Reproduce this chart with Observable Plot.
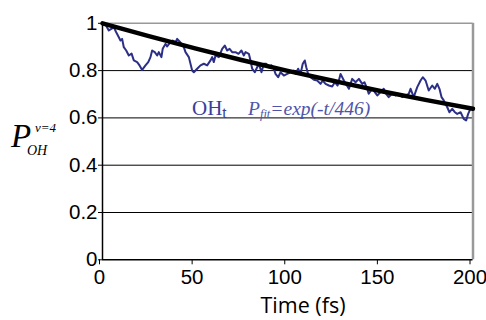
<!DOCTYPE html>
<html><head><meta charset="utf-8">
<script src="https://cdn.jsdelivr.net/npm/d3@7"></script>
<script src="https://cdn.jsdelivr.net/npm/@observablehq/plot@0.6"></script>
<style>body{margin:0;background:#fff} #chart{width:486px;height:320px}</style>
</head><body><div id="chart"></div>
<script>
// OH_t survival probability trace
const time = [0,1.6,3.4,6.1,7.4,8.8,9.7,10.6,11.5,12.8,14.2,15.7,16.9,18.7,20.0,21.4,23.2,24.7,25.9,26.8,28.2,29.5,30.4,31.8,32.5,34.0,34.9,36.7,37.9,39.4,40.3,42.1,43.9,44.8,46.6,48.4,49.3,51.1,52.9,54.7,56.5,58.3,59.2,60.1,61.0,62.8,64.6,66.0,67.3,68.6,70.0,71.8,73.4,75.0,76.3,77.2,79.0,79.9,80.8,82.2,83.5,84.4,85.8,87.1,88.4,89.8,91.2,92.5,93.4,94.8,96.1,97.9,99.7,101.5,103.3,104.2,105.6,106.9,108.1,109.2,110.0,111.0,112.3,114.1,115.9,117.7,118.9,120.4,122.2,124.0,125.4,126.9,128.5,130.3,133.0,134.8,136.6,138.4,140.2,141.4,142.9,143.7,145.6,147.0,148.3,150.1,151.8,153.1,154.5,156.4,158.2,159.6,161.8,163.6,165.3,166.3,168.0,169.9,171.7,172.9,174.4,176.1,178.0,179.4,180.7,181.9,183.0,184.2,186.1,187.3,188.8,190.2,191.5,193.3,195.0,196.3,197.4,198.6];
const pOH = [1.0,0.995,0.970,0.983,0.962,0.941,0.927,0.934,0.899,0.885,0.864,0.872,0.843,0.836,0.822,0.803,0.822,0.836,0.857,0.885,0.878,0.864,0.878,0.857,0.892,0.913,0.902,0.920,0.927,0.920,0.934,0.919,0.899,0.878,0.857,0.800,0.793,0.808,0.822,0.829,0.822,0.843,0.857,0.836,0.864,0.857,0.892,0.906,0.885,0.892,0.878,0.878,0.871,0.885,0.864,0.878,0.871,0.843,0.808,0.793,0.814,0.829,0.793,0.829,0.829,0.814,0.822,0.808,0.786,0.772,0.793,0.779,0.786,0.793,0.800,0.786,0.808,0.786,0.829,0.843,0.814,0.786,0.772,0.761,0.758,0.744,0.758,0.744,0.737,0.733,0.751,0.737,0.786,0.758,0.723,0.765,0.751,0.765,0.744,0.751,0.723,0.702,0.723,0.709,0.695,0.709,0.723,0.702,0.688,0.702,0.695,0.702,0.688,0.695,0.702,0.723,0.688,0.730,0.758,0.772,0.758,0.716,0.737,0.723,0.744,0.723,0.688,0.674,0.645,0.624,0.638,0.624,0.617,0.624,0.596,0.589,0.617,0.638];
// fit curve P_fit = exp(-t/446), values read at sample times
const fitTime = [0,25,50,75,100,125,150,175,200];
const fitP = [1,0.9455,0.894,0.845,0.799,0.756,0.714,0.675,0.639];
const xTicks = [0,50,100,150,200];
const yTicks = [0,0.2,0.4,0.6,0.8,1];
const yTickLabels = ["0","0.2","0.4","0.6","0.8","1"];
const gridValues = [0.2,0.4,0.6,0.8];

const trace = time.map((t,i)=>({t, p:pOH[i]}));
const fit = fitTime.map((t,i)=>({t, p:fitP[i]}));

const plot = Plot.plot({
  width:486, height:320,
  marginLeft:102, marginRight:13.5, marginTop:22.8, marginBottom:60.7,
  style:{background:"#fff", fontFamily:"'Liberation Sans', Arial, sans-serif", fontSize:"20.5px", color:"#000", overflow:"visible"},
  x:{domain:[0,200]},
  y:{domain:[0,1]},
  marks:[
    Plot.ruleY(gridValues, {stroke:"#000", strokeWidth:1}),
    Plot.ruleY([1], {stroke:"#999", strokeWidth:1.5}),
    Plot.ruleX([200], {stroke:"#999", strokeWidth:2.5}),
    Plot.line(trace, {x:"t", y:"p", stroke:"#2b2f86", strokeWidth:2}),
    Plot.line(fit, {x:"t", y:"p", stroke:"#000", strokeWidth:4.5, curve:"monotone-x"}),
    Plot.axisX({ticks:xTicks, tickSize:5, tickPadding:5, label:null, dx:-3, tickFormat:d=>String(d)}),
    Plot.axisY({ticks:yTicks, tickSize:4, tickPadding:1, label:null, tickFormat:d=>yTickLabels[yTicks.indexOf(d)]}),
    Plot.ruleX([0], {stroke:"#000", strokeWidth:1.5}),
    Plot.ruleY([0], {stroke:"#000", strokeWidth:1.5})
  ]
});
document.getElementById("chart").appendChild(plot);

const svg = d3.select(plot);
// x-axis title
svg.append("text").attr("x",303).attr("y",313).style("text-anchor","middle")
  .style("font-family","'Open Sans', sans-serif").style("font-size","21.5px").attr("fill","#000")
  .text("Time (fs)");
// y-axis title P_OH^{v=4}
const yl = svg.append("g").style("font-family","'Liberation Serif', 'Times New Roman', serif").style("font-style","italic").style("text-anchor","start").attr("fill","#000");
yl.append("text").attr("x",11).attr("y",147).style("font-size","33px").text("P");
yl.append("text").attr("x",35).attr("y",132).style("font-size","13px").text("v=4");
yl.append("text").attr("x",27).attr("y",155).style("font-size","14px").text("OH");
// annotations
const ann = svg.append("g").style("font-family","'Liberation Serif', 'Times New Roman', serif").style("text-anchor","start");
const oh = ann.append("text").attr("x",192).attr("y",115).attr("fill","#3a3f9c").style("font-size","21px");
oh.append("tspan").text("OH");
oh.append("tspan").style("font-family","'Liberation Sans', sans-serif").style("font-size","15px").attr("dy",3).text("t");
const pf = ann.append("text").attr("x",248).attr("y",115).attr("fill","#4f54aa").style("font-style","italic").style("font-size","19.5px");
pf.append("tspan").text("P");
pf.append("tspan").style("font-size","12.5px").attr("dy",3).text("fit");
pf.append("tspan").attr("dy",-3).text("=exp(-t/446)");
</script>
</body></html>
